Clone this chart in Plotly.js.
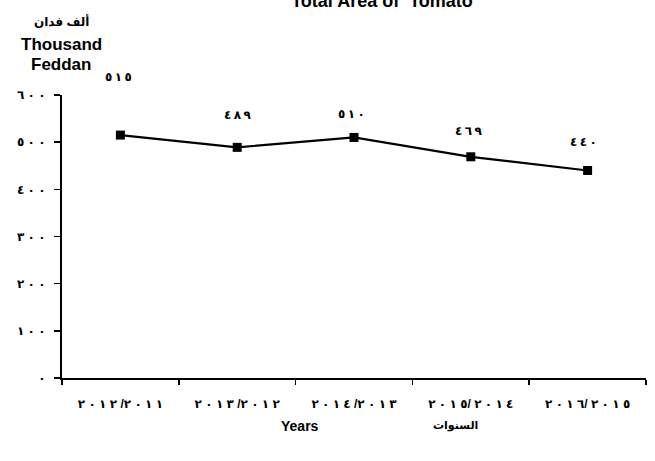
<!DOCTYPE html>
<html>
<head>
<meta charset="utf-8">
<script src="https://cdn.plot.ly/plotly-3.0.1.min.js"></script>
<style>
html,body{margin:0;padding:0;background:#fff;}
#chart{width:655px;height:461px;}
</style>
</head>
<body>
<div id="chart"></div>
<script>
// ---- data ----
const seasons = ["2012/2011", "2013/2012", "2014/2013", "2015/2014", "2016/2015"];
const seasonLabels = ["٢٠١٢ /٢٠١١", "٢٠١٣ /٢٠١٢", "٢٠١٤ /٢٠١٣", "٢٠١٥/ ٢٠١٤", "٢٠١٦/ ٢٠١٥"];
const areaThousandFeddan = [515, 489, 510, 469, 440];
const yTickValues = [0, 100, 200, 300, 400, 500, 600];
const chartTitle = "Total Area of  Tomato";
const yTitleLines = ["ألف فدان", "Thousand", "Feddan"];
const xTitleEn = "Years";
const xTitleAr = "السنوات";

// ---- helpers ----
const arDigits = "٠١٢٣٤٥٦٧٨٩";
function toArabic(n) {
  return String(n).split("").map(c => (c >= "0" && c <= "9") ? arDigits[+c] : c).join("");
}
const LRO = "\u202D", PDF = "\u202C";
// spread Arabic-Indic digits apart (the reference uses a wide digit face) and keep left-to-right order
function spread(s, gap) {
  return LRO + s.split("").map((c, i, a) =>
    (i < a.length - 1 && /[٠-٩]/.test(c) && /[٠-٩]/.test(a[i + 1])) ? c + gap : c).join("") + PDF;
}

const FONT = "Liberation Sans, Arial, DejaVu Sans, sans-serif";
const labelShift = [58, 32, 23, 26, 28]; // styling offsets (px)
const labelDx = [-2, 0, -3, -2, -4];

const trace = {
  type: "scatter",
  mode: "lines+markers",
  x: seasons,
  y: areaThousandFeddan,
  line: {color: "#000", width: 2.2},
  marker: {symbol: "square", size: 9, color: "#000"},
  hoverinfo: "none",
  cliponaxis: false
};

const annotations = areaThousandFeddan.map((v, i) => ({
  x: seasons[i], y: v, xref: "x", yref: "y",
  text: spread(toArabic(v), "\u2009"), showarrow: false,
  yshift: labelShift[i], xshift: labelDx[i],
  font: {family: FONT, size: 12, color: "#000", weight: "bold"}
}));

const yTitleY = [22, 44, 65];
yTitleLines.forEach((t, i) => {
  annotations.push({
    xref: "paper", yref: "paper",
    x: (61 - 62) / 584, y: (378 - yTitleY[i]) / 283,
    text: i === 0 ? t : "<b>" + t + "</b>",
    showarrow: false, xanchor: "center", yanchor: "middle",
    font: {family: FONT, size: i === 0 ? 12 : 17, color: "#000", weight: "bold"}
  });
});
annotations.push({
  xref: "paper", yref: "paper", x: (300 - 62) / 584, y: (378 - 426) / 283,
  text: "<b>" + xTitleEn + "</b>", showarrow: false, xanchor: "center", yanchor: "middle",
  font: {family: FONT, size: 14, color: "#000"}
});
annotations.push({
  xref: "paper", yref: "paper", x: (455 - 62) / 584, y: (378 - 425) / 283,
  text: xTitleAr, showarrow: false, xanchor: "center", yanchor: "middle",
  font: {family: FONT, size: 11, color: "#000", weight: "bold"}
});

const layout = {
  width: 655, height: 461,
  margin: {l: 62, r: 9, t: 95, b: 83, pad: 0},
  paper_bgcolor: "#fff", plot_bgcolor: "#fff",
  showlegend: false,
  title: {
    text: "<b>" + chartTitle + "</b>",
    x: 382 / 655, xanchor: "center", xref: "container",
    y: 1 - 1 / 461, yanchor: "middle", yref: "container",
    font: {family: FONT, size: 18, color: "#000"}
  },
  xaxis: {
    type: "category",
    range: [-0.5, 4.5],
    tickvals: seasons,
    ticktext: seasonLabels.map(s => spread(s, " ")),
    tickson: "boundaries",
    ticks: "outside", ticklen: 5, tickwidth: 1.5, tickcolor: "#000",
    showline: true, linecolor: "#000", linewidth: 2,
    showgrid: false, zeroline: false,
    ticklabelstandoff: 14,
    tickfont: {family: FONT, size: 12, color: "#000", weight: "bold"}
  },
  yaxis: {
    range: [0, 600],
    tickvals: yTickValues,
    ticktext: yTickValues.map(v => spread(toArabic(v), " ")),
    ticks: "outside", ticklen: 6, tickwidth: 1.5, tickcolor: "#000",
    showline: true, linecolor: "#000", linewidth: 2,
    showgrid: false, zeroline: false,
    ticklabelstandoff: 6,
    tickfont: {family: FONT, size: 12, color: "#000", weight: "bold"}
  },
  annotations: annotations
};

Plotly.newPlot("chart", [trace], layout, {staticPlot: true, displayModeBar: false});
</script>
</body>
</html>
